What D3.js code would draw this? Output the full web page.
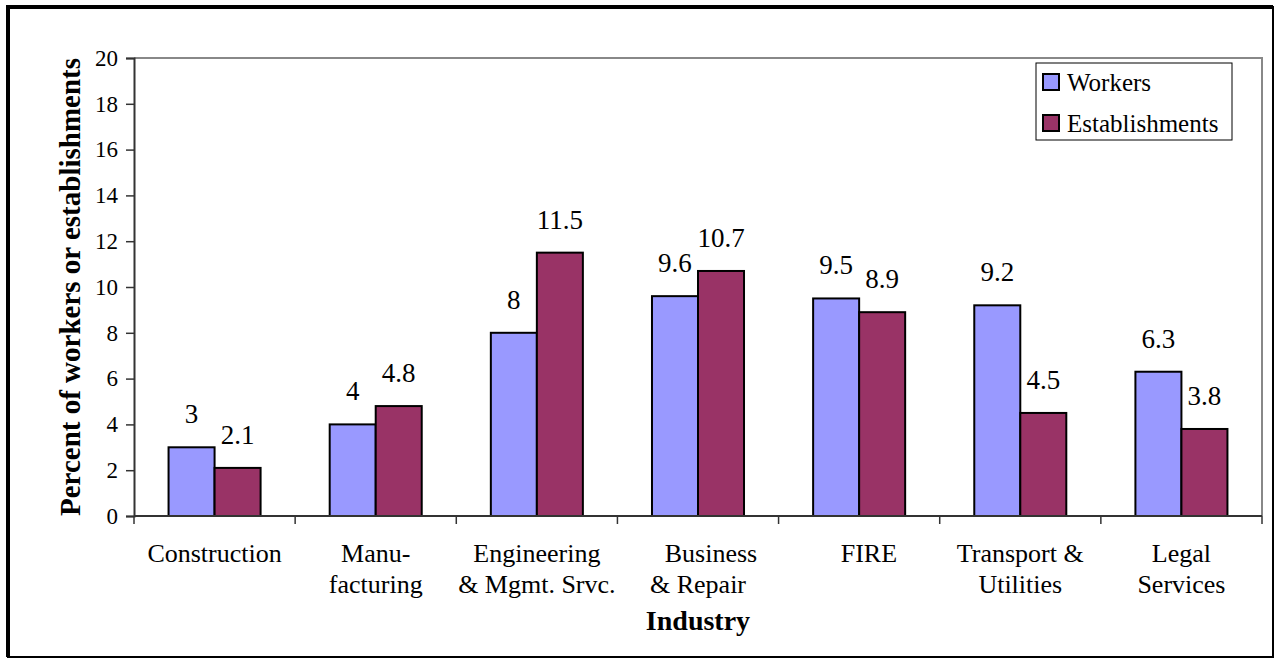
<!DOCTYPE html>
<html>
<head>
<meta charset="utf-8">
<script src="https://cdn.jsdelivr.net/npm/d3@7"></script>
<style>
  html, body { margin: 0; padding: 0; background: #fff; }
  svg text { font-family: "Liberation Serif", "Times New Roman", Times, serif; }
  .pre { white-space: pre; }
</style>
</head>
<body>
<svg id="chart" width="1275" height="658"></svg>
<script>
// Industry categories, each split into its displayed lines
const categories = [
  ["Construction"],
  ["Manu-", "facturing"],
  ["Engineering", "& Mgmt. Srvc."],
  ["    Business", "& Repair"],
  ["   FIRE"],
  ["Transport &", "Utilities"],
  ["Legal", "Services"]
];
const seriesNames = ["Workers", "Establishments"];
const workers = [3, 4, 8, 9.6, 9.5, 9.2, 6.3];
const establishments = [2.1, 4.8, 11.5, 10.7, 8.9, 4.5, 3.8];
const yTicks = [0, 2, 4, 6, 8, 10, 12, 14, 16, 18, 20];

const colors = { Workers: "#9999FF", Establishments: "#993366" };
const FONT = "Liberation Serif";

const svg = d3.select("#chart");
const W = 1275, H = 658;
const plot = { left: 134, right: 1262, top: 58, bottom: 516 };

// outer frame
svg.append("rect").attr("x", 0).attr("y", 0).attr("width", W).attr("height", H).attr("fill", "#fff");
svg.append("path")
  .attr("d", `M8,7 H1273 V657 H8 Z`)
  .attr("fill", "none").attr("stroke", "#000").attr("stroke-width", 2);
svg.append("path")
  .attr("d", `M8,657 V7 H1273`)
  .attr("fill", "none").attr("stroke", "#000").attr("stroke-width", 4);

const keys = categories.map((c, i) => i);
const x = d3.scaleBand().domain(keys).range([plot.left, plot.right]).paddingInner(0).paddingOuter(0);
const xs = d3.scaleBand().domain(seriesNames).range([0, x.bandwidth()]).paddingInner(0).paddingOuter(0.751);
const y = d3.scaleLinear().domain([0, 20]).range([plot.bottom, plot.top]);

// plot area border (top and right)
svg.append("path")
  .attr("d", `M${plot.left},${plot.top} H${plot.right} V${plot.bottom}`)
  .attr("fill", "none").attr("stroke", "#888").attr("stroke-width", 2);

// bars
const rows = keys.map(i => ({ i, values: [
  { key: "Workers", v: workers[i] },
  { key: "Establishments", v: establishments[i] }
]}));

const groups = svg.append("g").selectAll("g").data(rows).join("g")
  .attr("transform", d => `translate(${x(d.i)},0)`);

groups.selectAll("rect").data(d => d.values).join("rect")
  .attr("x", d => xs(d.key))
  .attr("y", d => y(d.v))
  .attr("width", xs.bandwidth())
  .attr("height", d => y(0) - y(d.v))
  .attr("fill", d => colors[d.key])
  .attr("stroke", "#000").attr("stroke-width", 2);

groups.selectAll("text.val").data(d => d.values).join("text")
  .attr("class", "val")
  .attr("x", d => xs(d.key) + xs.bandwidth() / 2)
  .attr("y", d => y(d.v) - 24)
  .attr("text-anchor", "middle")
  .attr("font-family", FONT)
  .attr("font-size", 27)
  .attr("fill", "#000")
  .text(d => d.v);

// y axis
const yAxis = d3.axisLeft(y).tickValues(yTicks).tickSize(8).tickPadding(8).tickFormat(d3.format("d"));
const gy = svg.append("g").attr("transform", `translate(${plot.left},0)`).call(yAxis)
  .attr("font-family", FONT);
gy.select(".domain").attr("stroke", "#333").attr("stroke-width", 2);
gy.selectAll(".tick line").attr("stroke", "#333").attr("stroke-width", 1.5);
gy.selectAll(".tick text").attr("font-size", 23).attr("font-family", FONT).attr("fill", "#000");

// x axis: ticks at category boundaries
const gx = svg.append("g").attr("transform", `translate(0,${plot.bottom})`);
gx.append("line").attr("x1", plot.left).attr("x2", plot.right).attr("stroke", "#333").attr("stroke-width", 2);
const bounds = keys.map(i => x(i)).concat([plot.right]);
gx.selectAll("line.tk").data(bounds).join("line")
  .attr("class", "tk")
  .attr("x1", d => d).attr("x2", d => d)
  .attr("y1", 0).attr("y2", 8)
  .attr("stroke", "#333").attr("stroke-width", 1.5);

// category labels
const cat = svg.append("g").selectAll("text").data(keys).join("text")
  .attr("class", "pre")
  .attr("text-anchor", "middle")
  .attr("font-family", FONT)
  .attr("font-size", 26)
  .attr("fill", "#000");
cat.each(function(i) {
  const t = d3.select(this);
  categories[i].forEach((line, j) => {
    t.append("tspan")
      .attr("x", x(i) + x.bandwidth() / 2)
      .attr("y", 562 + j * 31)
      .text(line);
  });
});

// axis titles
svg.append("text")
  .attr("x", (plot.left + plot.right) / 2)
  .attr("y", 630)
  .attr("text-anchor", "middle")
  .attr("font-family", FONT)
  .attr("font-size", 28).attr("font-weight", "bold")
  .text("Industry");

svg.append("text")
  .attr("transform", `translate(80,${(plot.top + plot.bottom) / 2}) rotate(-90)`)
  .attr("text-anchor", "middle")
  .attr("font-family", FONT)
  .attr("font-size", 29).attr("font-weight", "bold")
  .text("Percent of workers or establishments");

// legend
const lg = svg.append("g").attr("transform", "translate(1036,63)");
lg.append("rect").attr("width", 196).attr("height", 77)
  .attr("fill", "#fff").attr("stroke", "#000").attr("stroke-width", 1);
const li = lg.selectAll("g").data(seriesNames).join("g")
  .attr("transform", (d, i) => `translate(7,${11 + i * 41})`);
li.append("rect").attr("width", 16).attr("height", 16)
  .attr("fill", d => colors[d]).attr("stroke", "#000").attr("stroke-width", 2);
li.append("text").attr("x", 24).attr("y", 17)
  .attr("font-family", FONT)
  .attr("font-size", 25).attr("fill", "#000")
  .text(d => d);
</script>
</body>
</html>
